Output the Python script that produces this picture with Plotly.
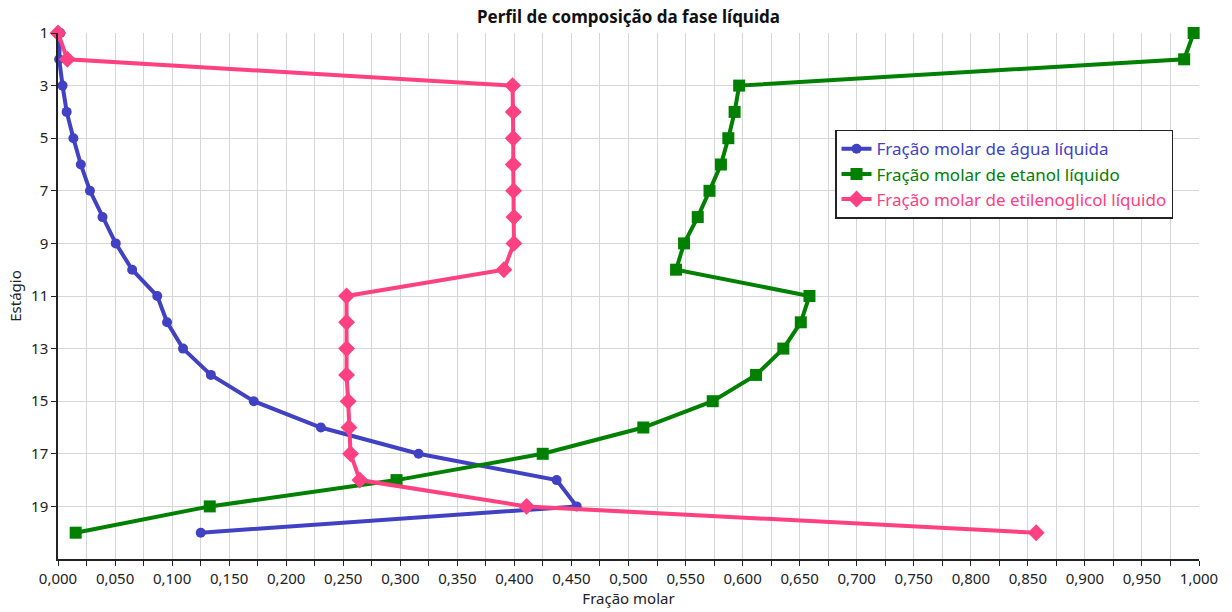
import plotly.graph_objects as go

# Liquid-phase composition profile along the column stages
stages = list(range(1, 21))

agua = [0.002, 0.001, 0.004, 0.0076, 0.0135, 0.020, 0.028, 0.039, 0.0506, 0.065,
        0.087, 0.0956, 0.1096, 0.134, 0.1716, 0.2304, 0.316, 0.437, 0.4546, 0.1251]

etanol = [0.9953, 0.987, 0.597, 0.593, 0.5875, 0.581, 0.571, 0.5607, 0.5487, 0.5417,
          0.6586, 0.651, 0.6357, 0.6118, 0.5738, 0.513, 0.4248, 0.2967, 0.133, 0.0155]

etilenoglicol = [0.0, 0.0082, 0.3984, 0.399, 0.399, 0.399, 0.3993, 0.3996, 0.3996, 0.3908,
                 0.2529, 0.2529, 0.2529, 0.2529, 0.2543, 0.255, 0.2564, 0.2646, 0.4107, 0.8573]

names = ["Fração molar de água líquida",
         "Fração molar de etanol líquido",
         "Fração molar de etilenoglicol líquido"]
colors = ["#4141C3", "#008000", "#FF4081"]
symbols = ["circle", "square", "diamond"]
sizes = [10, 12, 13]

x_ticks = [i * 0.05 for i in range(21)]
y_ticks = list(range(1, 20, 2))

fig = go.Figure()
for vals, name, color, sym, sz in zip([agua, etanol, etilenoglicol], names, colors, symbols, sizes):
    fig.add_trace(go.Scatter(
        x=vals, y=stages, mode="lines+markers",
        name=f"<span style='color:{color}'>{name}</span>",
        line=dict(color=color, width=4),
        marker=dict(symbol=sym, size=sz, color=color),
        cliponaxis=False,
    ))

axis_font = dict(family="Noto Sans, Open Sans, sans-serif", size=15, color="#222222")

fig.update_layout(
    width=1232, height=612,
    margin=dict(l=58, r=33, t=33, b=53),
    paper_bgcolor="white", plot_bgcolor="white",
    font=dict(family="Noto Sans, Open Sans, sans-serif", size=15, color="#222222"),
    separators=",.",
    title=dict(text="<b>Perfil de composição da fase líquida</b>",
               x=0.5, xref="paper", xanchor="center",
               y=1 - 17 / 612, yref="container", yanchor="middle",
               font=dict(size=17, color="#111111")),
    showlegend=True,
    legend=dict(x=0.681, y=0.816, xanchor="left", yanchor="top",
                bgcolor="white", bordercolor="#222222", borderwidth=1.5,
                font=dict(size=17), tracegroupgap=0, itemwidth=30),
    xaxis=dict(range=[0, 1.0], tickvals=x_ticks, tickformat=".3f",
               showgrid=True, gridcolor="#D6D6D6", gridwidth=1,
               minor=dict(dtick=0.025, tick0=0, showgrid=True, gridcolor="#D6D6D6",
                          gridwidth=1, ticks="outside", ticklen=5, tickcolor="#222222"),
               ticks="outside", ticklen=5, tickcolor="#222222",
               showline=True, linecolor="#222222", linewidth=1.5,
               zeroline=False, tickfont=axis_font, automargin=False,
               title=dict(text="Fração molar", font=dict(size=15), standoff=7)),
    yaxis=dict(range=[21, 1], tickvals=y_ticks,
               showgrid=True, gridcolor="#D6D6D6", gridwidth=1,
               ticks="outside", ticklen=5, tickcolor="#222222",
               showline=True, linecolor="#222222", linewidth=1.5,
               zeroline=False, tickfont=axis_font, automargin=False,
               title=dict(text="Estágio", font=dict(size=15), standoff=6)),
)

fig.write_html("out.html")
